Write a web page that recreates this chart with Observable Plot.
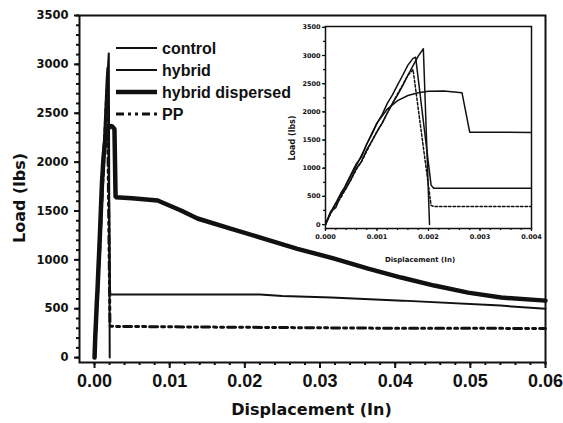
<!DOCTYPE html>
<html>
<head>
<meta charset="utf-8">
<script src="https://cdn.jsdelivr.net/npm/d3@7"></script>
<script src="https://cdn.jsdelivr.net/npm/@observablehq/plot@0.6"></script>
<style>
  html, body { margin: 0; padding: 0; background: #fff; }
  #wrap { position: relative; width: 563px; height: 423px; overflow: hidden; }
  #wrap svg { position: absolute; }
</style>
</head>
<body>
<div id="wrap"></div>
<script>
// ---------- data ----------
const seriesNames = ["control", "hybrid", "hybrid dispersed", "PP"];

const controlX = [0, 0.0001, 0.0002, 0.0003, 0.0004, 0.0005, 0.0006, 0.0007, 0.0008, 0.0009, 0.0010, 0.0011, 0.0012, 0.0013, 0.0014, 0.0015, 0.0016, 0.0017, 0.0018, 0.0019, 0.00202];
const controlY = [0, 230, 300, 520, 640, 820, 1000, 1120, 1330, 1480, 1650, 1800, 1980, 2150, 2300, 2470, 2650, 2820, 2990, 3120, 0];

const hybridX = [0, 0.0001, 0.0002, 0.0003, 0.0004, 0.0005, 0.0006, 0.0007, 0.0008, 0.0009, 0.0010, 0.0011, 0.0012, 0.0013, 0.0014, 0.0015, 0.0016, 0.0017, 0.00175, 0.00205, 0.0021, 0.022, 0.025, 0.0315, 0.041, 0.054, 0.06];
const hybridY = [0, 200, 380, 500, 720, 900, 1080, 1200, 1430, 1600, 1800, 1950, 2150, 2300, 2480, 2650, 2830, 2950, 2970, 700, 645, 645, 630, 614, 583, 532, 500];

const dispersedX = [0, 0.0001, 0.0002, 0.0003, 0.0004, 0.0005, 0.0006, 0.0007, 0.0008, 0.0009, 0.0010, 0.0012, 0.0014, 0.0016, 0.0018, 0.0020, 0.0023, 0.00265, 0.0028, 0.005, 0.0084, 0.0115, 0.0137, 0.0181, 0.0225, 0.027, 0.0319, 0.0364, 0.0408, 0.0452, 0.0497, 0.0541, 0.06];
const dispersedY = [0, 220, 380, 560, 700, 880, 1050, 1230, 1420, 1620, 1800, 2050, 2200, 2290, 2340, 2365, 2370, 2340, 1640, 1630, 1607, 1505, 1423, 1320, 1218, 1113, 1013, 911, 819, 737, 665, 614, 583];

const ppX = [0, 0.0001, 0.0002, 0.0003, 0.0004, 0.0005, 0.0006, 0.0007, 0.0008, 0.0009, 0.0010, 0.0011, 0.0012, 0.0013, 0.0014, 0.0015, 0.0016, 0.0017, 0.00205, 0.0021, 0.01, 0.02, 0.03, 0.04, 0.05, 0.06];
const ppY = [0, 200, 350, 480, 650, 800, 980, 1120, 1300, 1480, 1650, 1800, 1980, 2150, 2320, 2480, 2650, 2750, 340, 320, 315, 310, 305, 300, 300, 298];

const mainXTicks = [0, 0.01, 0.02, 0.03, 0.04, 0.05, 0.06];
const mainXMinor = d3.range(0, 0.0601, 0.002);
const mainYTicks = [0, 500, 1000, 1500, 2000, 2500, 3000, 3500];
const mainYMinor = d3.range(0, 3501, 100);
const insetXTicks = [0, 0.001, 0.002, 0.003, 0.004];
const insetXMinor = d3.range(0, 0.00401, 0.0002);
const insetYTicks = [0, 500, 1000, 1500, 2000, 2500, 3000, 3500];
const insetYMinor = d3.range(0, 3501, 250);
const xTitle = "Displacement (In)";
const yTitle = "Load (lbs)";

// ---------- build table ----------
const raw = [[controlX, controlY], [hybridX, hybridY], [dispersedX, dispersedY], [ppX, ppY]];
const rows = raw.flatMap(([xs, ys], i) => xs.map((x, j) => ({series: seriesNames[i], x, y: ys[j]})));
const bySeries = name => rows.filter(d => d.series === name);

const styleMain = {
  "control": {strokeWidth: 2},
  "hybrid": {strokeWidth: 2},
  "hybrid dispersed": {strokeWidth: 4.5},
  "PP": {strokeWidth: 3, strokeDasharray: "8,4,3,4,3,4"}
};
const styleInset = {
  "control": {strokeWidth: 1.5},
  "hybrid": {strokeWidth: 1.5},
  "hybrid dispersed": {strokeWidth: 1.5},
  "PP": {strokeWidth: 1.5, strokeDasharray: "2.5,2"}
};

const ink = "#111";
const tickFont = "'DejaVu Sans', sans-serif";
const xTickFont = "'Liberation Sans Narrow', 'Liberation Sans', Arial, sans-serif";

// ---------- main chart ----------
const main = Plot.plot({
  width: 563, height: 423,
  marginLeft: 79, marginRight: 18, marginTop: 15, marginBottom: 61,
  x: {domain: [-0.002, 0.06]},
  y: {domain: [-50, 3500]},
  style: {background: "transparent", color: ink},
  marks: [
    ...seriesNames.map(n => Plot.line(bySeries(n), {x: "x", y: "y", stroke: ink, strokeLinejoin: "miter", ...styleMain[n]})),
    Plot.frame({stroke: ink, strokeWidth: 2}),
    Plot.axisX({ticks: mainXMinor, tickSize: 3, text: null, strokeWidth: 2, label: null}),
    Plot.axisX({ticks: mainXTicks, tickSize: 6, tickPadding: 6, strokeWidth: 2, tickFormat: d3.format(".2f"),
      fontSize: 18, fontFamily: xTickFont, fontWeight: "bold", label: null}),
    Plot.axisY({ticks: mainYMinor, tickSize: 3, text: null, strokeWidth: 2, label: null}),
    Plot.axisY({ticks: mainYTicks, tickSize: 5, tickPadding: 6, strokeWidth: 2, tickFormat: d3.format("d"),
      fontSize: 11.5, fontFamily: tickFont, fontWeight: "bold", label: null})
  ]
});
main.style.left = "0px"; main.style.top = "0px";
document.getElementById("wrap").appendChild(main);

const ms = d3.select(main);
ms.append("text").attr("x", 311.5).attr("y", 415).attr("text-anchor", "middle")
  .attr("font-family", tickFont).attr("font-weight", "bold").attr("font-size", 16).attr("fill", ink).text(xTitle);
ms.append("text").attr("transform", "translate(25,198) rotate(-90)").attr("text-anchor", "middle")
  .attr("font-family", tickFont).attr("font-weight", "bold").attr("font-size", 16).attr("fill", ink).text(yTitle);

// legend
const legendRows = [48, 70, 92, 114];
seriesNames.forEach((n, i) => {
  const s = styleMain[n];
  ms.append("line").attr("x1", 116).attr("x2", 157).attr("y1", legendRows[i]).attr("y2", legendRows[i])
    .attr("stroke", ink).attr("stroke-width", s.strokeWidth).attr("stroke-dasharray", s.strokeDasharray || null);
  ms.append("text").attr("x", 162).attr("y", legendRows[i] + 6).attr("text-anchor", "start")
    .attr("font-family", "'Liberation Sans', Arial, sans-serif").attr("font-weight", "bold").attr("font-size", 16)
    .attr("fill", ink).text(n);
});

// ---------- inset ----------
const inset = Plot.plot({
  width: 265, height: 260,
  marginLeft: 45, marginRight: 14, marginTop: 16, marginBottom: 42,
  x: {domain: [0, 0.004]},
  y: {domain: [-70, 3515]},
  style: {background: "transparent", color: ink},
  marks: [
    ...seriesNames.map(n => Plot.line(bySeries(n), {x: "x", y: "y", stroke: ink, clip: true, ...styleInset[n]})),
    Plot.frame({stroke: ink, strokeWidth: 1.5}),
    Plot.axisX({ticks: insetXMinor, tickSize: 2, text: null, strokeWidth: 1.2, label: null}),
    Plot.axisX({ticks: insetXTicks, tickSize: 3, tickPadding: 3, strokeWidth: 1.2, tickFormat: d3.format(".3f"),
      fontSize: 6.5, fontFamily: tickFont, fontWeight: "bold", label: null}),
    Plot.axisY({ticks: insetYMinor, tickSize: 2, text: null, strokeWidth: 1.2, label: null}),
    Plot.axisY({ticks: insetYTicks, tickSize: 3, tickPadding: 2, strokeWidth: 1.2, tickFormat: d3.format("d"),
      fontSize: 6.5, fontFamily: tickFont, fontWeight: "bold", label: null})
  ]
});
inset.style.left = "280px"; inset.style.top = "10px";
document.getElementById("wrap").appendChild(inset);
const is = d3.select(inset);
is.append("text").attr("x", 140).attr("y", 252).attr("text-anchor", "middle")
  .attr("font-family", tickFont).attr("font-weight", "bold").attr("font-size", 7).attr("fill", ink).text(xTitle);
is.append("text").attr("transform", "translate(15,128) rotate(-90)").attr("text-anchor", "middle")
  .attr("font-family", tickFont).attr("font-weight", "bold").attr("font-size", 8).attr("fill", ink).text(yTitle);
</script>
</body>
</html>
